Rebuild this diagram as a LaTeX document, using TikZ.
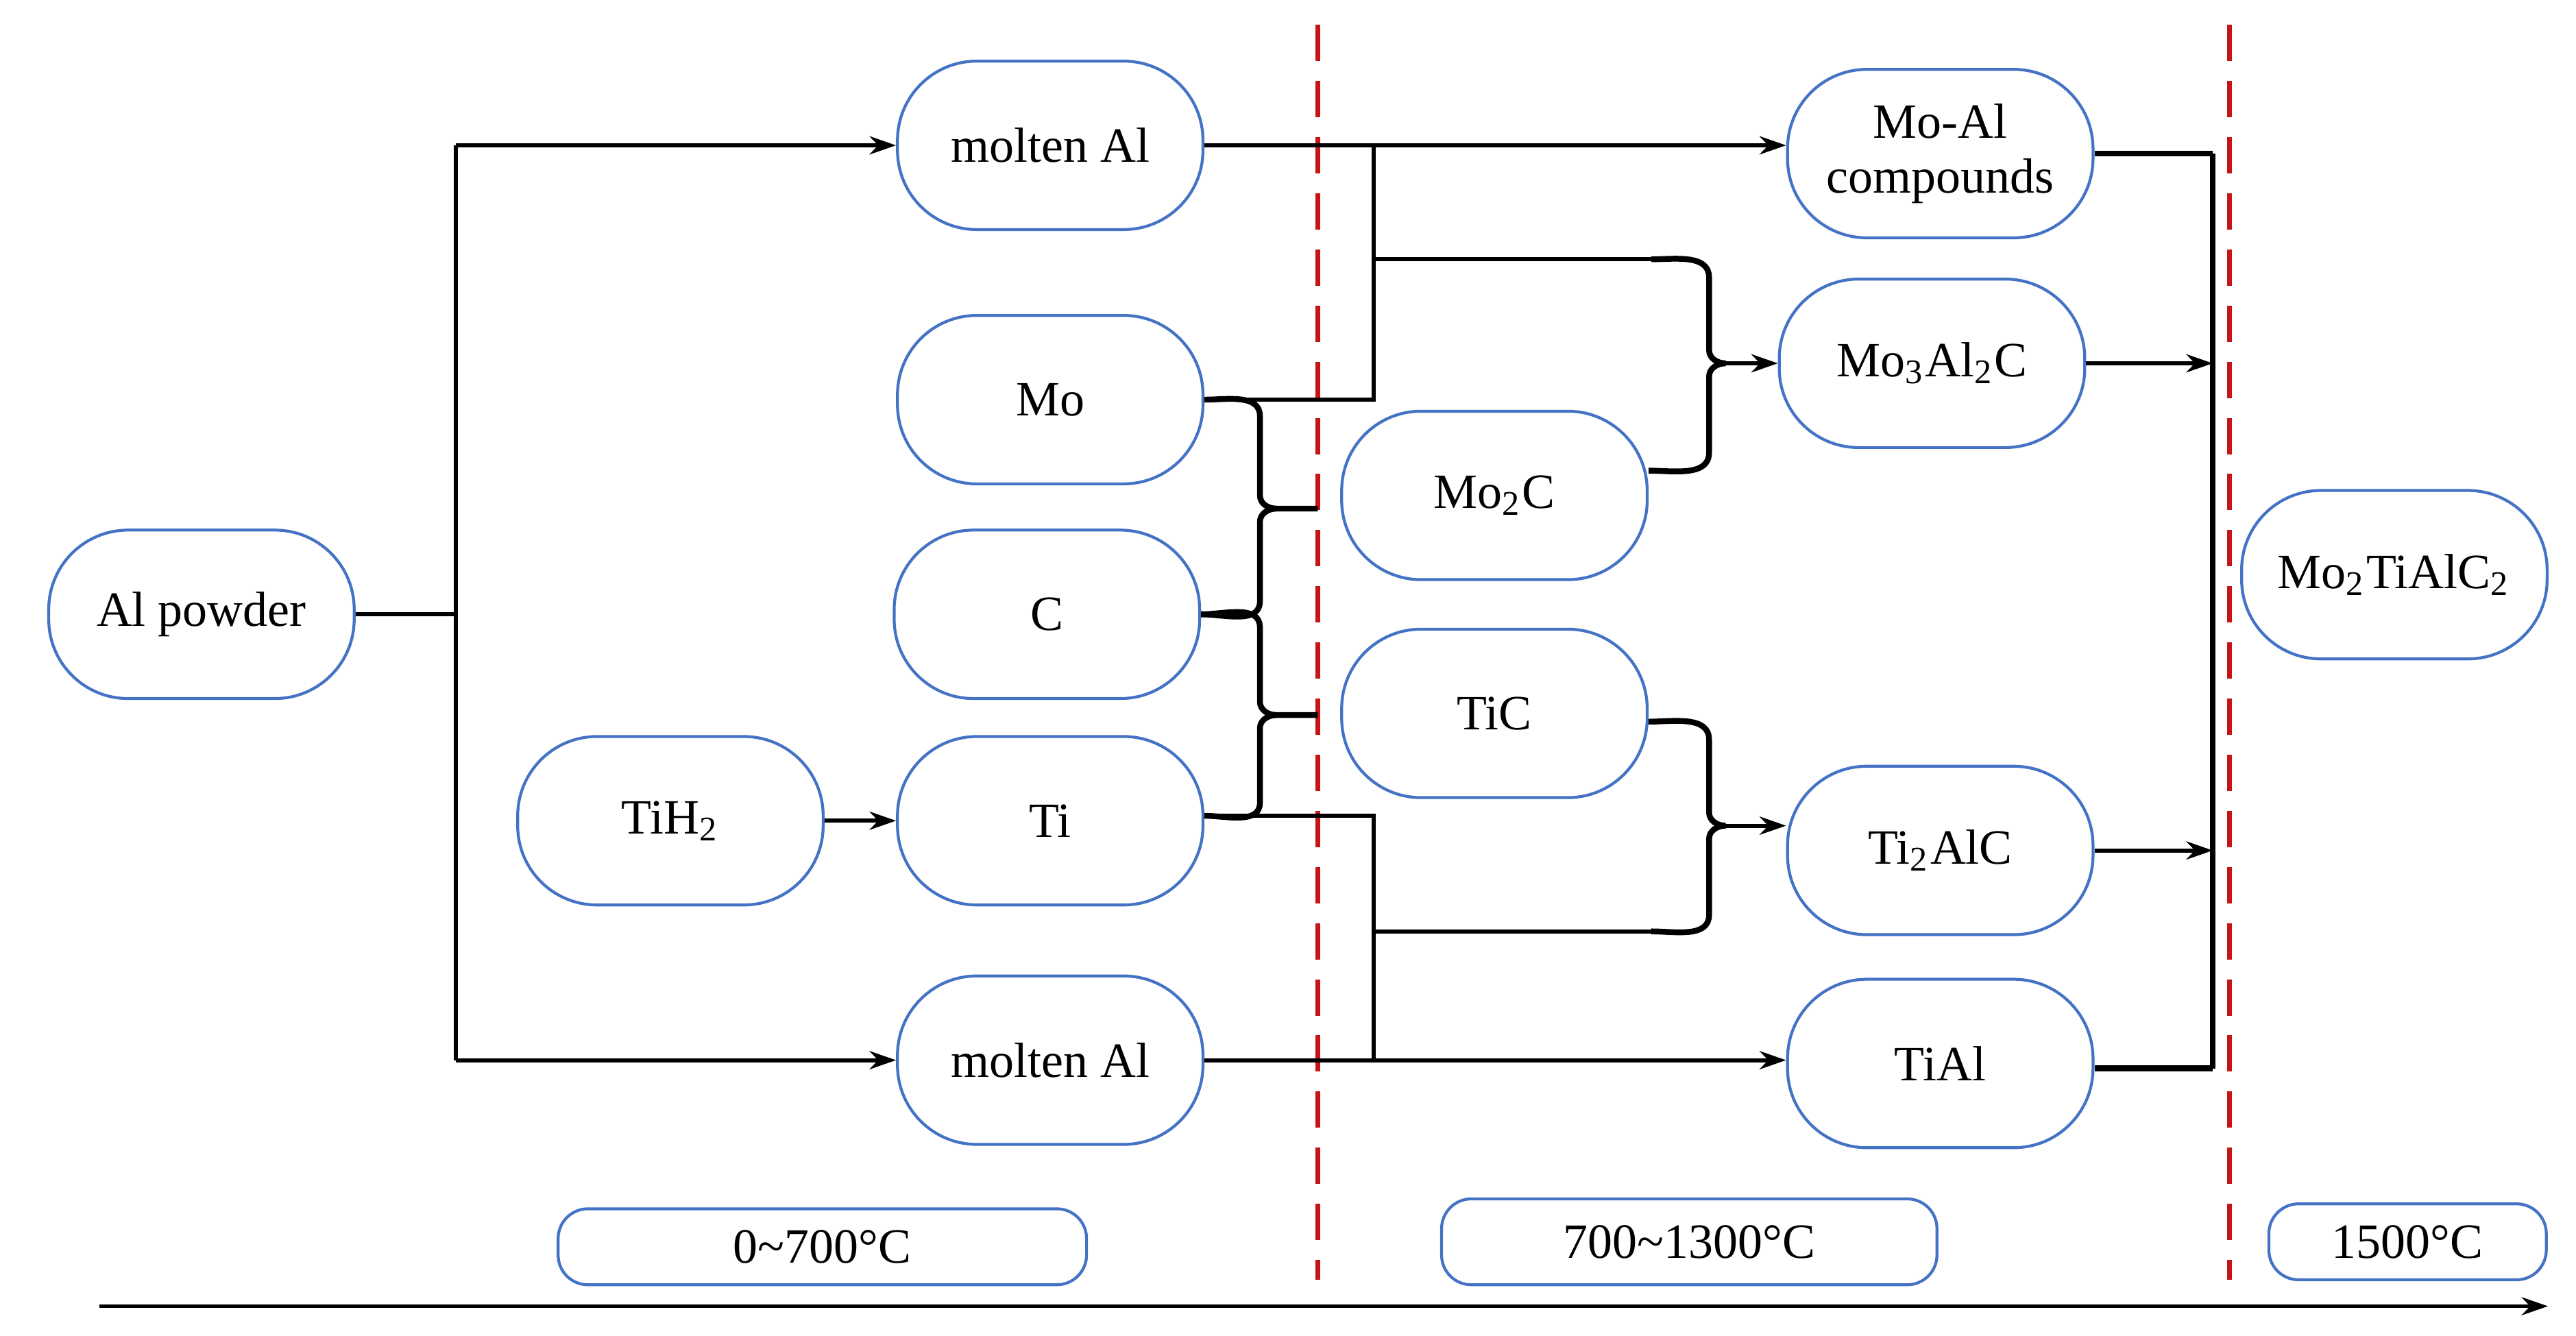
\documentclass[tikz,border=0pt]{standalone}
\usepackage{fontspec}
\setmainfont{Liberation Serif}
\usetikzlibrary{arrows.meta}
\definecolor{bb}{RGB}{68,114,196}
\newcommand{\sbs}[1]{\textsubscript{#1}}
\begin{document}
\begin{tikzpicture}[x=0.1mm,y=-0.1mm,
  box/.style={draw=bb, line width=0.5pt, rounded corners=4.8mm, minimum width=18.5mm, minimum height=10.2mm, align=center, inner sep=1pt, font=\fontsize{8.5}{9.5}\selectfont},
  tbox/.style={draw=bb, line width=0.5pt, rounded corners=1.8mm, minimum height=4.6mm, font=\fontsize{8.5}{9.5}\selectfont},
  ln/.style={line width=0.7pt},
  thk/.style={line width=1pt},
  arr/.style={line width=0.7pt,-{Stealth[length=1.6mm,width=1.1mm]}},
  red/.style={draw={rgb,255:red,200;green,20;blue,20}, line width=0.8pt, dash pattern=on 2.2mm off 1.2mm}]
\useasboundingbox (0,0) rectangle (1560,809);
\node[box] (alp) at (122,372) {Al powder};
\node[box] (mat) at (636,88) {molten Al};
\node[box] (mo) at (636,242) {Mo};
\node[box] (c) at (634,372) {C};
\node[box] (tih) at (406,497) {TiH\sbs{2}};
\node[box] (ti) at (636,497) {Ti};
\node[box] (mab) at (636,642) {molten Al};
\node[box] (mo2c) at (905,300) {Mo\sbs{2}C};
\node[box] (tic) at (905,432) {TiC};
\node[box] (moal) at (1175,93) {Mo-Al\\compounds};
\node[box] (mo3) at (1170,220) {Mo\sbs{3}Al\sbs{2}C};
\node[box] (ti2) at (1175,515) {Ti\sbs{2}AlC};
\node[box] (tial) at (1175,644) {TiAl};
\node[box] (fin) at (1450,348) {Mo\sbs{2}TiAlC\sbs{2}};
\node[tbox, minimum width=32mm] (t1) at (498,755) {0\textasciitilde700°C};
\node[tbox, minimum width=30mm, minimum height=5.2mm] (t2) at (1023,752) {700\textasciitilde1300°C};
\node[tbox, minimum width=16.8mm] (t3) at (1458,752) {1500°C};
% red dashed
\coordinate (r1a) at (798,15); \coordinate (r1b) at (798,775);
\coordinate (r2a) at (1350,15); \coordinate (r2b) at (1350,775);
\draw[red] (r1a) -- (r1b);
\draw[red] (r2a) -- (r2b);
% axis
\coordinate (ax0) at (60,791); \coordinate (ax1) at (1543,791);
\draw[line width=0.5pt,-{Stealth[length=1.6mm,width=1.1mm]}] (ax0) -- (ax1);
% Al powder split
\draw[ln] (alp.east) -- (276,372);
\draw[ln] (276,88) -- (276,642);
\draw[arr] (276,88) -- (mat.west);
\draw[arr] (276,642) -- (mab.west);
\draw[arr] (tih.east) -- (ti.west);
% molten Al top -> Mo-Al compounds
\draw[arr] (mat.east) -- (moal.west|-mat.east);
\draw[ln] (mo.east) -- (832,242) -- (832,88);
\draw[ln] (832,157) -- (1000,157);
% brace Mo2C+Al -> Mo3Al2C
\draw[thk] (1000,157) to[out=0,in=90] (1035,168) -- (1035,212) to[out=-90,in=180] (1045,220);
\draw[thk] (mo2c.east|-0,285) to[out=0,in=-90] (1035,274) -- (1035,228) to[out=90,in=180] (1045,220);
\draw[arr] (1045,220) -- (mo3.west);
% left braces Mo/C/Ti
\draw[thk] (mo.east) to[out=0,in=90] (763,252) -- (763,300) to[out=-90,in=180] (773,308) -- (798,308);
\draw[thk] (c.east) to[out=0,in=-90] (763,364) -- (763,316) to[out=90,in=180] (773,308);
\draw[thk] (c.east) to[out=0,in=90] (763,380) -- (763,425) to[out=-90,in=180] (773,433) -- (798,433);
\draw[thk] (ti.east|-0,494) to[out=0,in=-90] (763,486) -- (763,441) to[out=90,in=180] (773,433);
% Ti branch
\draw[ln] (ti.east|-0,494) -- (832,494) -- (832,642);
\draw[ln] (832,564) -- (1000,564);
\draw[arr] (mab.east) -- (tial.west|-mab.east);
% brace TiC+Ti -> Ti2AlC
\draw[thk] (tic.east|-0,437) to[out=0,in=90] (1035,448) -- (1035,492) to[out=-90,in=180] (1045,500);
\draw[thk] (1000,564) to[out=0,in=-90] (1035,554) -- (1035,508) to[out=90,in=180] (1045,500);
\draw[arr] (1045,500) -- (ti2.west|-0,500);
% right collection
\draw[thk] (1340,93) -- (1340,647);
\draw[thk] (moal.east) -- (1340,93);
\draw[thk] (tial.east|-0,647) -- (1340,647);
\draw[arr] (mo3.east) -- (1340,220);
\draw[arr] (ti2.east) -- (1340,515);
\end{tikzpicture}
\end{document}
